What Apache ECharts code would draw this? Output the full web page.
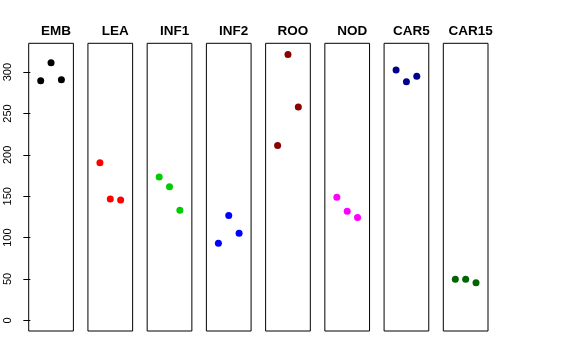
<!DOCTYPE html>
<html><head><meta charset="utf-8">
<script src="https://cdn.jsdelivr.net/npm/echarts@6/dist/echarts.min.js"></script>
<style>html,body{margin:0;padding:0;background:#fff}#c{width:576px;height:360px}</style>
</head><body><div id="c"></div>
<script>
const categories = ['EMB','LEA','INF1','INF2','ROO','NOD','CAR5','CAR15'];
const colors = ['#000000','#FF0000','#00CD00','#0000FF','#8B0000','#FF00FF','#00008B','#006400'];
const positions = [1,2,3];
const EMB = [289.6, 311.3, 290.8];
const LEA = [190.5, 146.5, 145.3];
const INF1 = [173.1, 161.5, 132.9];
const INF2 = [93.0, 126.8, 105.1];
const ROO = [211.4, 321.3, 257.7];
const NOD = [148.6, 131.7, 124.4];
const CAR5 = [302.4, 288.3, 295.1];
const CAR15 = [49.5, 49.5, 45.5];
const yTicks = [0,50,100,150,200,250,300];
const seriesValues = [EMB, LEA, INF1, INF2, ROO, NOD, CAR5, CAR15];

const panelLeft0 = 28.7, panelStep = 59.23, panelW = 44.7, panelTop = 43.3, panelH = 287.7;
const grids = [], xAxes = [], yAxes = [], series = [], titles = [];
categories.forEach((name, i) => {
  const left = panelLeft0 + i * panelStep;
  grids.push({left: left, top: panelTop, width: panelW, height: panelH, show: true,
    borderColor: '#000', borderWidth: 1, backgroundColor: 'transparent', containLabel: false});
  xAxes.push({type: 'value', gridIndex: i, min: -0.16, max: 4.16, show: false});
  yAxes.push({type: 'value', gridIndex: i, min: -12.9, max: 334.8,
    show: i === 0, splitLine: {show: false},
    axisLine: {show: false},
    axisTick: {show: i === 0, length: 7, lineStyle: {color: '#000'}, customValues: yTicks},
    axisLabel: {show: i === 0, rotate: 90, fontSize: 11, color: '#000', margin: 15,
      fontFamily: 'Liberation Sans, Arial, sans-serif', customValues: yTicks}
  });
  series.push({type: 'scatter', xAxisIndex: i, yAxisIndex: i, symbol: 'circle', symbolSize: 7,
    itemStyle: {color: colors[i], opacity: 1},
    data: seriesValues[i].map((v, k) => [positions[k], v]), silent: true});
  titles.push({text: name, left: left + panelW / 2, top: 19, textAlign: 'center',
    textStyle: {fontSize: 13.5, fontWeight: 'bold', color: '#000', fontFamily: 'Liberation Sans, Arial, sans-serif'}});
});

const chart = echarts.init(document.getElementById('c'), null, {renderer: 'canvas'});
chart.setOption({animation: false, backgroundColor: '#fff', title: titles, grid: grids,
  xAxis: xAxes, yAxis: yAxes, series: series});
</script></body></html>
